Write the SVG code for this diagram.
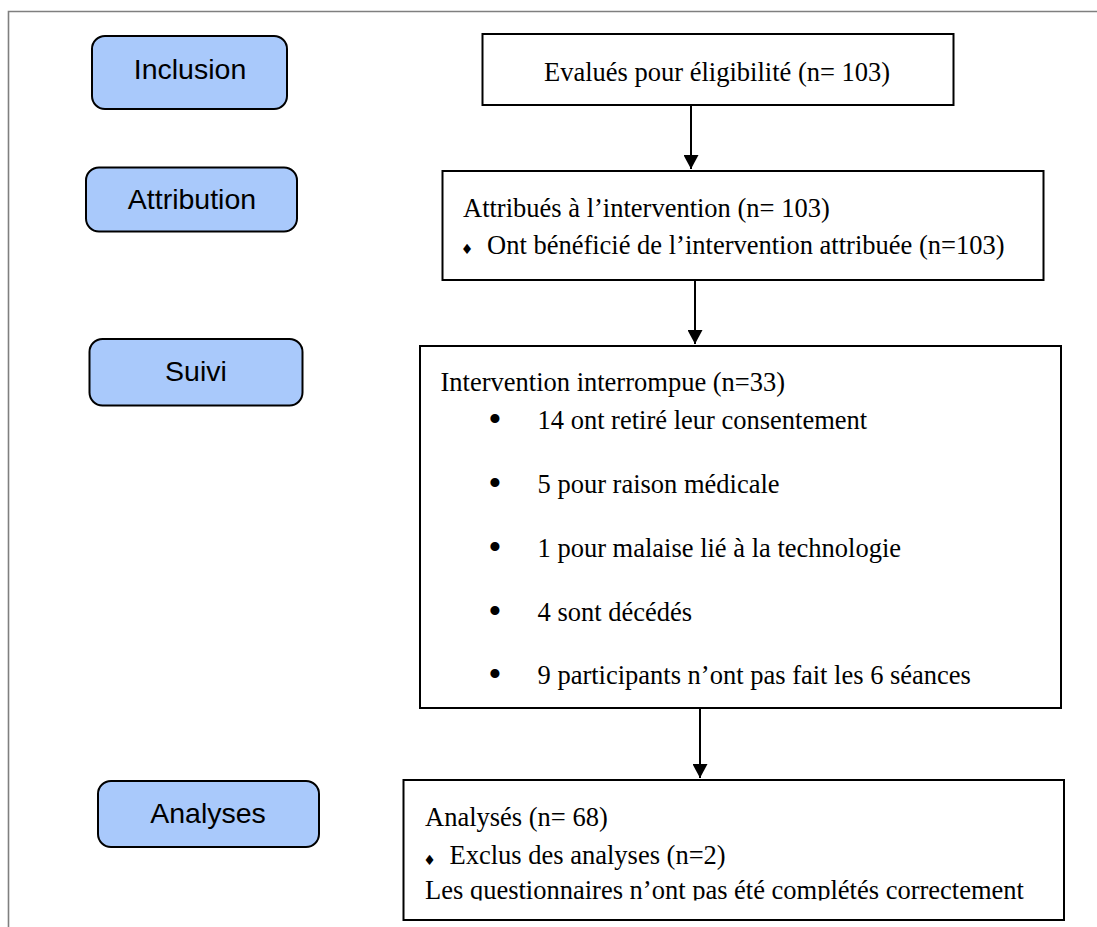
<svg xmlns="http://www.w3.org/2000/svg" width="1097" height="927" viewBox="0 0 1097 927">
<style>
.frame{fill:none;stroke:#7f7f7f;stroke-width:1.6}
.lbl{fill:#a9c9fb;stroke:#000;stroke-width:2}
.lt{font-family:"Liberation Sans",Arial,sans-serif;font-size:28.5px;fill:#000;text-anchor:middle}
.box{fill:#fff;stroke:#000;stroke-width:2}
.t{font-family:"Liberation Serif","Times New Roman",serif;font-size:26.5px;fill:#000}
.bul{font-family:"Liberation Serif","Times New Roman",serif;font-size:38px;fill:#000;text-anchor:middle}
.dia{font-family:"DejaVu Sans",sans-serif;font-size:14px;fill:#000;text-anchor:middle}
.con{stroke:#000;stroke-width:2;fill:none}
</style>
<defs>
<marker id="ah" markerWidth="7" markerHeight="7.5" refX="7" refY="3.75" orient="auto" markerUnits="strokeWidth">
<path d="M0,0 L7,3.75 L0,7.5 Z" fill="#000"/>
</marker>
<clipPath id="clip4"><rect x="403" y="780" width="662" height="120.5"/></clipPath>
</defs>
<rect width="1097" height="927" fill="#fff"/>
<path class="frame" d="M8.5,927 L8.5,11.5 L1097,11.5"/>

<g id="label-inclusion">
<rect class="lbl" x="92" y="36" width="195" height="73" rx="13"/>
<text class="lt" x="190" y="78.5">Inclusion</text>
</g>
<g id="label-attribution">
<rect class="lbl" x="86" y="167.5" width="211" height="64" rx="13"/>
<text class="lt" x="192" y="208.5">Attribution</text>
</g>
<g id="label-suivi">
<rect class="lbl" x="89.5" y="339" width="213" height="66.5" rx="13"/>
<text class="lt" x="196" y="381">Suivi</text>
</g>
<g id="label-analyses">
<rect class="lbl" x="98" y="781" width="221" height="66" rx="13"/>
<text class="lt" x="208" y="823">Analyses</text>
</g>

<g id="box-evalues">
<rect class="box" x="482.5" y="34" width="471" height="71"/>
<text class="t" x="544" y="80.5">Evalués pour éligibilité (n= 103)</text>
</g>
<g id="box-attribues">
<rect class="box" x="442.5" y="171" width="601" height="109"/>
<text class="t" x="463" y="216.5">Attribués à l’intervention (n= 103)</text>
<text class="dia" x="467" y="254">♦</text>
<text class="t" x="487" y="253.5">Ont bénéficié de l’intervention attribuée (n=103)</text>
</g>
<g id="box-interrompue">
<rect class="box" x="420" y="346" width="641" height="362"/>
<text class="t" x="440.5" y="390.5">Intervention interrompue (n=33)</text>
<text class="bul" x="495" y="432">•</text>
<text class="t" x="537.5" y="428.5">14 ont retiré leur consentement</text>
<text class="bul" x="495" y="495.5">•</text>
<text class="t" x="537.5" y="492.5">5 pour raison médicale</text>
<text class="bul" x="495" y="559.5">•</text>
<text class="t" x="537.5" y="556.5">1 pour malaise lié à la technologie</text>
<text class="bul" x="495" y="623.5">•</text>
<text class="t" x="537.5" y="620.5">4 sont décédés</text>
<text class="bul" x="495" y="687">•</text>
<text class="t" x="537.5" y="683.5">9 participants n’ont pas fait les 6 séances</text>
</g>
<g id="box-analyses">
<rect class="box" x="403.5" y="780" width="660.5" height="140"/>
<text class="t" x="425" y="826">Analysés (n= 68)</text>
<text class="dia" x="429.5" y="864.5">♦</text>
<text class="t" x="449.5" y="863.5">Exclus des analyses (n=2)</text>
<g clip-path="url(#clip4)">
<text class="t" x="425" y="899">Les questionnaires n’ont pas été complétés correctement</text>
</g>
</g>

<g id="connectors">
<line class="con" x1="691" y1="105" x2="691" y2="169" marker-end="url(#ah)"/>
<line class="con" x1="695" y1="280" x2="695" y2="344" marker-end="url(#ah)"/>
<line class="con" x1="700" y1="708" x2="700" y2="778" marker-end="url(#ah)"/>
</g>
</svg>
